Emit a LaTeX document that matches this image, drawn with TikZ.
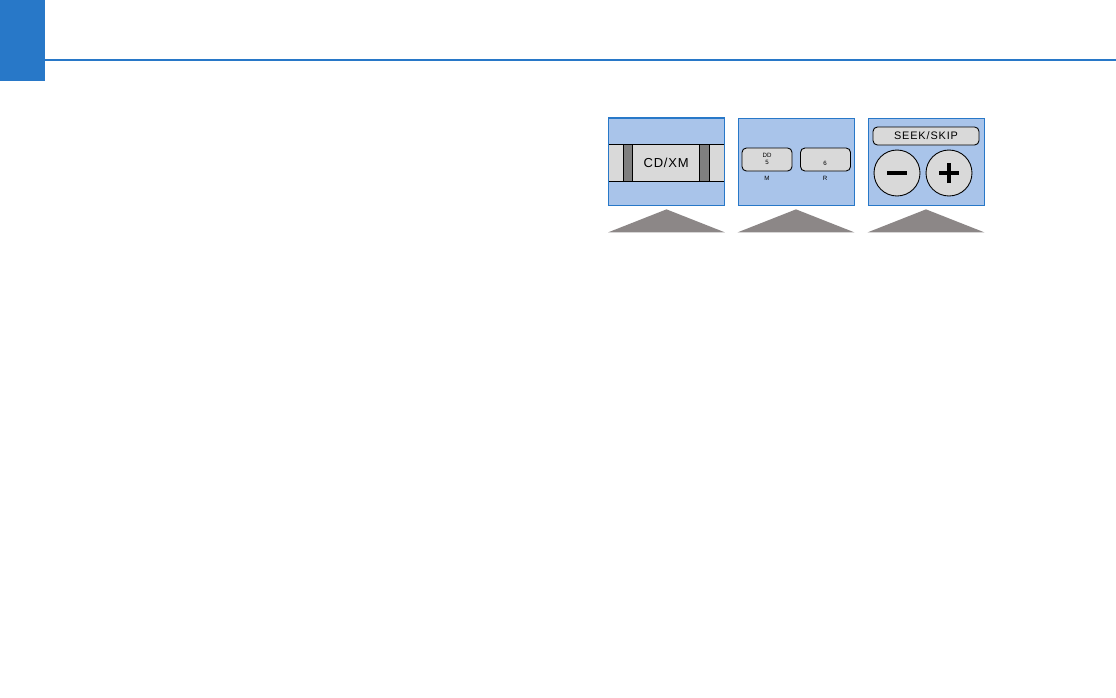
\documentclass[tikz,border=0pt]{standalone}
\usepackage{fontspec}
\setsansfont{Liberation Sans}
\usetikzlibrary{positioning, calc}

\definecolor{hdrblue}{HTML}{2878C8}
\definecolor{panelblue}{HTML}{A9C4EA}
\definecolor{keygray}{HTML}{D9D9D9}
\definecolor{capgray}{HTML}{7F7F7F}
\definecolor{arrowgray}{HTML}{8C8787}

\begin{document}
\begin{tikzpicture}[
  x=0.02cm, y=-0.02cm,
  panel/.style   = {draw=hdrblue, line width=0.4pt, fill=panelblue, minimum width=2.32cm, minimum height=1.74cm, inner sep=0pt},
  key/.style     = {draw=black, line width=0.5pt, fill=keygray, inner sep=0pt},
  stripkey/.style= {key, outer sep=0pt, minimum height=0.74cm},
  endcap/.style  = {stripkey, fill=capgray, minimum width=0.19cm},
  preset/.style  = {key, rounded corners=2.5pt, minimum width=1.0cm, minimum height=0.46cm},
  roundkey/.style= {key, circle, minimum size=0.92cm},
  tiny/.style    = {font=\sffamily\fontsize{3.5}{4}\selectfont, inner sep=0pt},
  pointer/.style = {fill=arrowgray},
  sign/.style    = {line width=2.4pt},
]
  \useasboundingbox (0,0) rectangle (1116,697);

  % page header
  \fill[hdrblue] (0,0) rectangle (45,81);
  \coordinate (hl) at (45,60);
  \coordinate (hr) at (1116,60);
  \draw[hdrblue, line width=0.6pt] (hl) -- (hr);

  % three panels
  \node[panel] (pA) at (666.5,161.5) {};
  \node[panel] (pB) at (796,161.5)   {};
  \node[panel] (pC) at (926,161.5)   {};

  \foreach \p in {pA,pB,pC}
    \fill[pointer] ([yshift=-0.54cm]\p.south west) -- ([yshift=-0.08cm]\p.south)
                   -- ([yshift=-0.54cm]\p.south east) -- cycle;

  % CD/XM key with neighbours
  \node[stripkey, minimum width=0.3cm, anchor=west] (sL) at (pA.west |- 0,162.5) {};
  \node[endcap, right=0pt of sL]  (cL) {};
  \node[stripkey, right=0pt of cL, minimum width=1.34cm,
        font=\sffamily\addfontfeature{LetterSpace=6}\fontsize{7.4}{8}\selectfont] (kCD) {CD/XM};
  \node[endcap, right=0pt of kCD] (cR) {};
  \node[stripkey, right=0pt of cR, minimum width=0.3cm] (sR) {};
  \draw[hdrblue, line width=0.4pt] (pA.north west) rectangle (pA.south east);

  % preset keys
  \node[preset] (k5) at (767,159.5) {};
  \node[preset] (k6) at (825.5,159.5) {};
  \node[tiny] (k5a) at (767,155.5) {DD};
  \node[tiny] (k5b) at (767,162.5) {5};
  \node[tiny] (k5c) at (767,178.5) {M};
  \node[tiny] (k6a) at (825,163.5) {6};
  \node[tiny] (k6c) at (825,178.5) {R};

  % seek / skip
  \node[key, rounded corners=2.5pt, minimum width=2.12cm, minimum height=0.36cm,
        font=\sffamily\addfontfeature{LetterSpace=8}\fontsize{6.2}{7}\selectfont] (kSeek) at (926,136) {SEEK/SKIP};
  \node[roundkey] (kMin)  at (897,173) {};
  \node[roundkey] (kPlus) at (949,173) {};
  \draw[sign] ([xshift=-0.2cm]kMin.center) -- ([xshift=0.2cm]kMin.center);
  \draw[sign] ([xshift=-0.2cm]kPlus.center) -- ([xshift=0.2cm]kPlus.center);
  \draw[sign] ([yshift=-0.2cm]kPlus.center) -- ([yshift=0.2cm]kPlus.center);
\end{tikzpicture}
\end{document}
